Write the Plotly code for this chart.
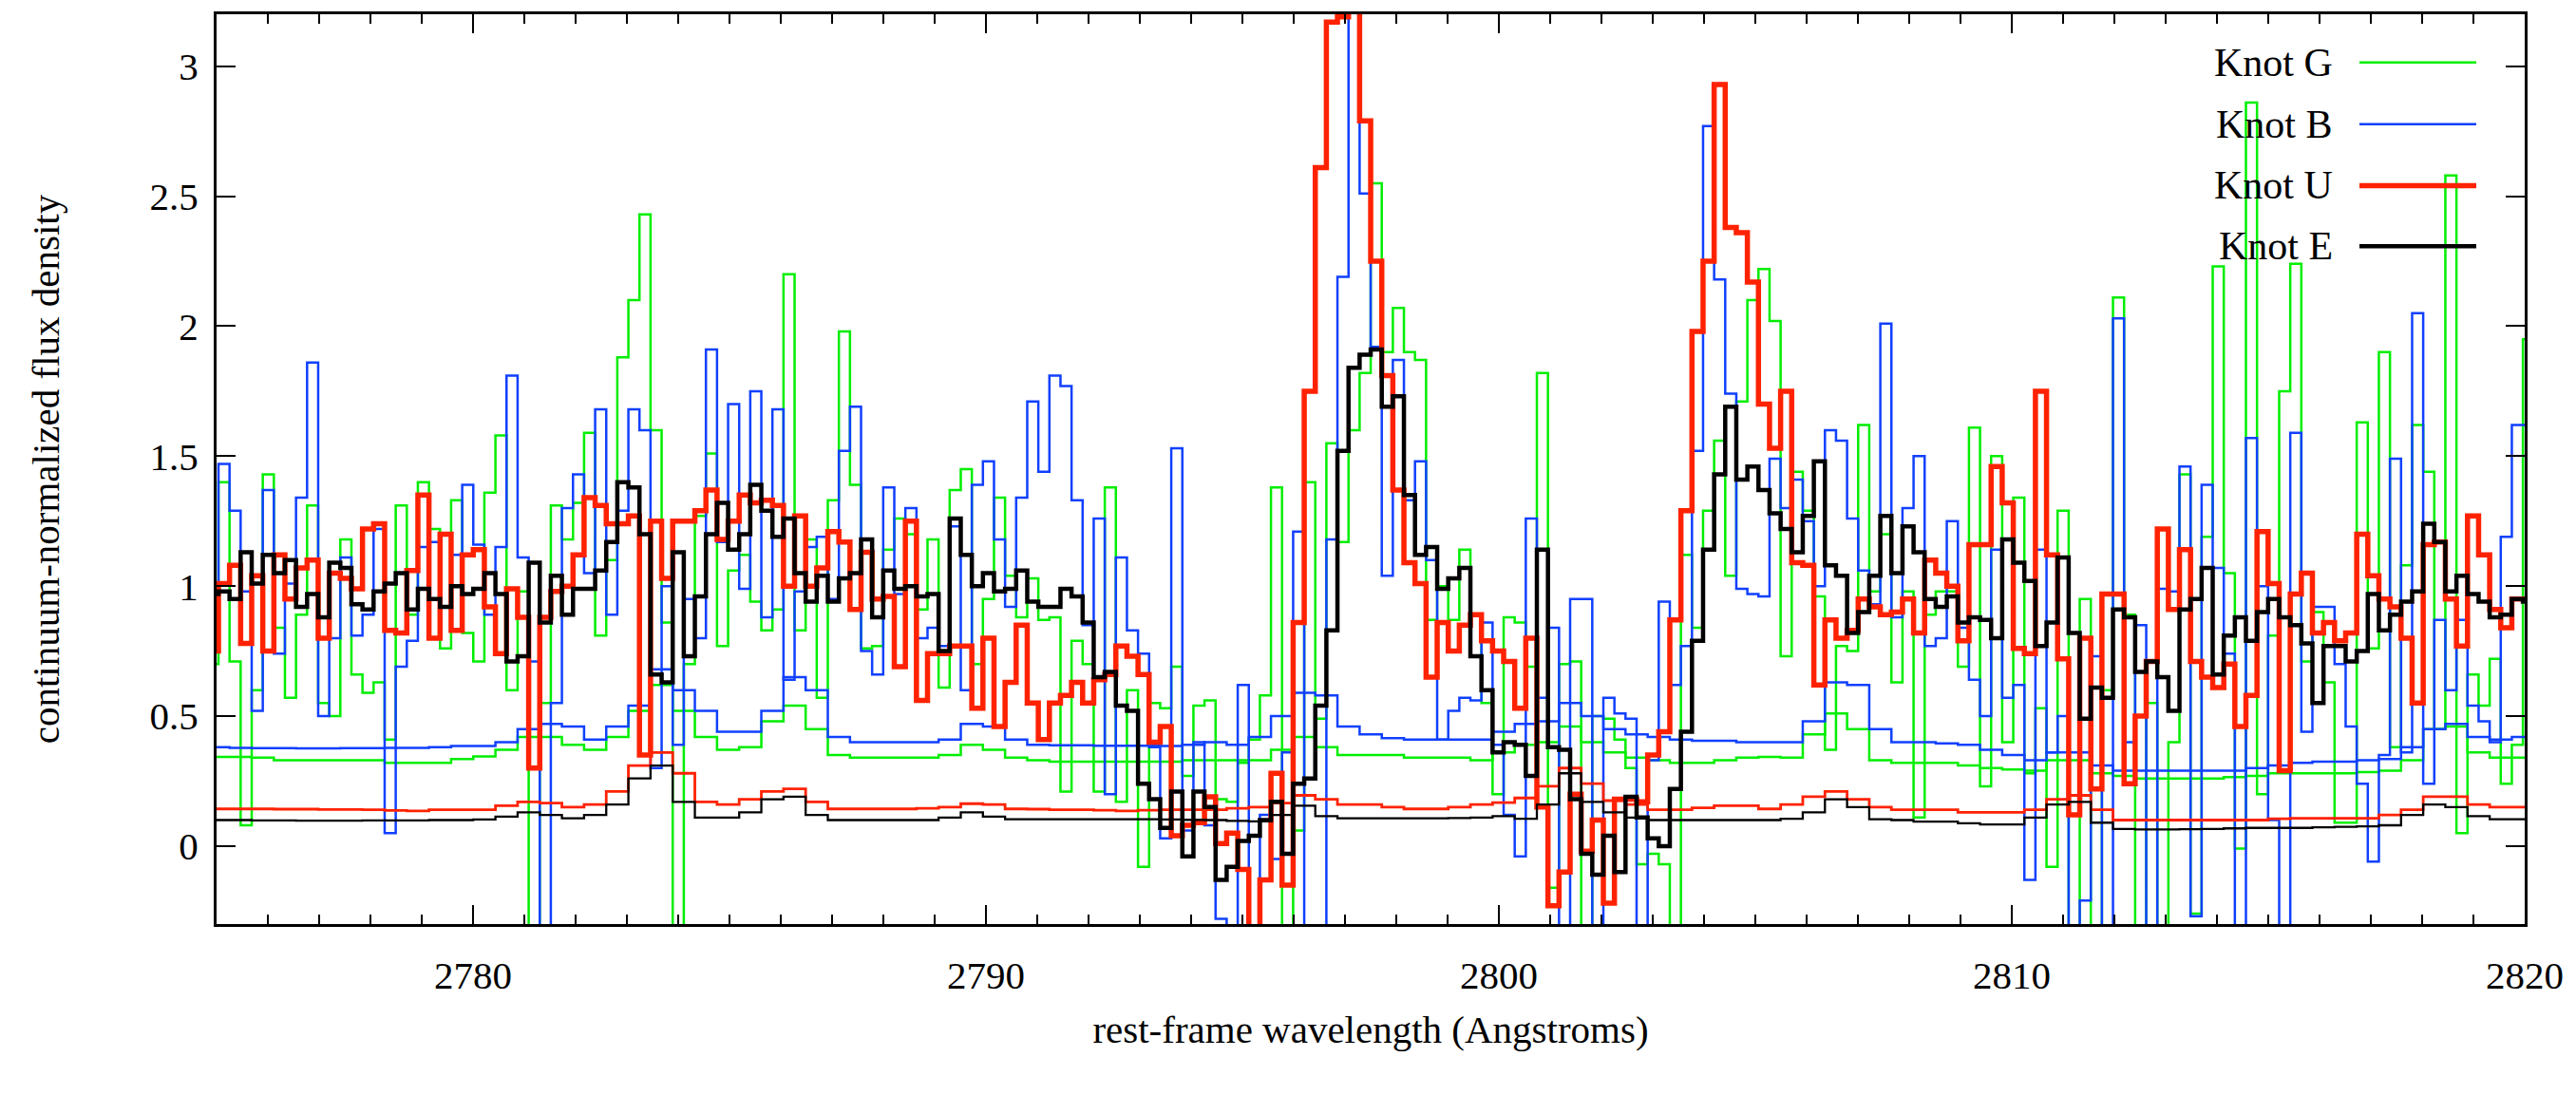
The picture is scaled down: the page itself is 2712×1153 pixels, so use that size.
import numpy as np
import plotly.graph_objects as go

# Rest-frame wavelength binning of the extracted spectra (Angstroms)
BIN_START = 2774.821
BIN_WIDTH = 0.216
ERR_WIDTH = 0.432

knot_names = ["Knot G", "Knot B", "Knot U", "Knot E"]

# Continuum-normalized flux density per spectral bin
flux_G = [
    0.70, 1.40, 0.71, 0.08, 0.60, 1.43, 0.84, 0.57, 0.89, 1.31,
    0.55, 0.50, 1.18, 0.66, 0.59, 0.63, 0.41, 1.31, 0.89, 1.40,
    1.22, 0.76, 1.33, 0.82, 0.71, 1.36, 1.58, 0.60, 0.98, -0.60,
    0.55, 1.31, 1.18, 1.32, 1.59, 0.81, 1.10, 1.88, 2.10, 2.43,
    1.60, 0.86, -0.60, 0.70, 1.27, 1.51, 0.77, 1.06, 1.12, 0.94,
    0.83, 0.91, 2.20, 0.83, 1.18, 0.57, 1.33, 1.98, 1.39, 0.76,
    0.77, 1.14, 1.26, 1.20, 0.91, 1.18, 0.61, 1.37, 1.45, 0.70,
    0.95, 1.34, 1.04, 0.88, 1.03, 0.87, 0.88, 0.21, 0.79, 0.70,
    0.21, 1.38, 0.17, 0.60, -0.08, 0.55, 0.53, 0.69, 0.27, 0.54,
    0.56, 0.18, 0.17, 0.32, 0.41, 0.58, 1.38, -0.50, 0.06, 1.40,
    0.49, 1.55, 1.17, 1.60, 1.82, 2.55, 1.90, 2.07, 1.90, 1.87,
    0.87, 1.00, 0.87, 1.14, 0.89, 0.55, 0.20, 0.88, 0.86, 0.69,
    1.82, -0.16, 0.70, 0.71, -0.60, 0.50, 0.49, 0.41, 0.30, -0.07,
    -0.03, -0.07, -0.60, 1.12, 0.84, 1.29, 1.56, 1.04, 1.71, 2.10,
    2.22, 2.02, 0.73, 1.44, 1.29, 0.96, 0.37, 0.77, 0.75, 1.62,
    0.98, 1.20, 0.63, 0.98, 0.11, 0.89, 0.98, 0.98, 0.69, 1.61,
    0.23, 1.50, 0.40, 1.34, 0.28, 0.53, -0.08, 1.29, -0.60, 0.95,
    -0.60, 0.60, 2.11, 0.89, -0.60, 0.55, -0.60, 0.40, 1.43, -0.26,
    1.19, 2.23, 1.05, -0.01, 2.86, 0.20, 0.81, 1.75, 2.24, 0.71,
    0.90, 0.63, 0.09, 0.09, 1.63, 0.76, 1.90, 0.38, 1.08, 1.62,
    1.44, 0.45, 2.58, 0.05, 0.66, 0.54, 0.72, 0.24, 0.39, 1.95,
]

flux_B = [
    0.81, 1.47, 1.29, 0.98, 0.52, 1.37, 0.74, 1.01, 1.34, 1.86,
    0.50, 0.80, 1.11, 0.81, 0.89, 1.22, 0.05, 0.69, 0.79, 1.15,
    1.17, 0.92, 1.12, 1.39, 1.16, 0.89, 1.15, 1.81, 1.11, 0.71,
    -0.60, 0.55, 1.30, 1.43, 1.05, 1.68, 0.89, 1.29, 1.68, 1.60,
    0.30, 1.00, 0.39, 0.95, 0.80, 1.91, 1.17, 1.70, 0.99, 1.75,
    0.88, 1.68, 0.64, 0.98, 1.15, 1.19, 0.95, 1.52, 1.69, 0.75,
    0.66, 1.38, 0.97, 1.30, 0.80, 0.84, 0.77, 1.23, 0.60, 1.39,
    1.48, 1.18, 0.92, 1.34, 1.71, 1.44, 1.81, 1.77, 1.33, 0.85,
    1.26, 0.20, 1.11, 0.83, 0.74, 0.38, 0.03, 1.53, 0.06, 0.40,
    0.08, -0.28, -0.60, 0.62, -0.60, 0.12, -0.05, 0.36, 1.21, -0.60,
    -0.60, 1.18, 2.19, 3.40, 2.51, 1.92, 1.04, 1.87, 1.33, 1.48,
    1.10, 0.41, 0.52, 0.57, 0.56, 0.86, 0.39, 0.12, -0.04, 1.26,
    0.57, 0.84, -0.60, 0.95, 0.95, -0.60, 0.57, 0.51, 0.49, -0.60,
    0.33, 0.94, 0.62, 0.77, 1.52, 2.77, 2.18, 1.74, 0.99, 0.97,
    0.96, 1.49, 1.30, 1.41, 1.25, 1.00, 1.60, 1.56, 1.26, 1.06,
    0.93, 2.01, 0.88, 1.30, 1.50, 0.77, 0.80, 1.25, 0.84, 0.64,
    0.50, 1.14, 0.57, 0.62, -0.13, 1.14, 0.36, 0.50, -0.60, -0.21,
    0.73, -0.60, 2.03, 0.40, 0.85, -0.60, 0.99, 0.98, 1.46, -0.27,
    1.39, 1.07, 0.74, -0.60, 1.57, 1.00, 0.10, -0.60, 1.59, 0.44,
    0.92, 0.92, 0.70, 0.46, 0.24, -0.06, 0.35, 1.49, 0.36, 2.05,
    0.24, 0.87, 0.60, 0.87, 0.54, 0.48, 0.40, 1.19, 1.62, 1.62,
]

flux_U = [
    0.75, 1.01, 1.08, 0.78, 1.04, 0.75, 1.12, 0.95, 1.07, 1.10,
    0.80, 1.05, 1.03, 0.99, 1.22, 1.24, 0.83, 0.82, 1.06, 1.35,
    0.80, 1.20, 0.83, 1.12, 1.14, 0.92, 0.74, 0.99, 0.88, 0.30,
    0.88, 0.98, 1.00, 1.12, 1.34, 1.31, 1.24, 1.24, 1.27, 0.35,
    1.25, 1.03, 1.25, 1.25, 1.29, 1.37, 1.18, 1.25, 1.35, 1.32,
    1.33, 1.31, 1.00, 1.27, 1.00, 1.07, 1.21, 1.17, 0.91, 1.13,
    0.95, 0.96, 0.69, 1.25, 0.56, 0.74, 0.74, 0.77, 0.77, 0.53,
    0.80, 0.46, 0.63, 0.85, 0.55, 0.41, 0.55, 0.58, 0.63, 0.55,
    0.64, 0.66, 0.77, 0.73, 0.66, 0.40, 0.46, 0.04, 0.08, 0.09,
    0.19, 0.01, 0.05, -0.09, -0.35, -0.13, 0.28, -0.15, 0.86, 1.75,
    2.61, 3.17, 3.19, 3.50, 2.79, 2.25, 1.81, 1.37, 1.09, 1.01,
    0.65, 0.86, 0.75, 0.85, 0.89, 0.79, 0.75, 0.71, 0.53, 0.80,
    0.15, -0.23, -0.10, 0.20, -0.02, 0.10, -0.22, 0.18, 0.18, 0.17,
    0.35, 0.44, 0.87, 1.29, 1.98, 2.25, 2.93, 2.38, 2.36, 2.17,
    1.70, 1.53, 1.75, 1.09, 1.08, 0.62, 0.87, 0.80, 0.83, 0.95,
    0.92, 0.89, 0.90, 0.95, 0.82, 1.10, 1.05, 1.00, 0.79, 1.16,
    1.16, 1.46, 1.32, 0.76, 0.74, 1.75, 1.12, 0.72, 0.12, 0.80,
    0.22, 0.97, 0.97, 0.24, 0.50, 0.71, 1.22, 0.91, 1.14, 0.71,
    0.65, 0.61, 0.70, 0.46, 0.58, 1.21, 1.01, 0.29, 0.97, 1.05,
    0.82, 0.86, 0.79, 0.82, 1.20, 1.04, 0.95, 0.92, 0.80, 0.55,
    1.16, 1.17, 0.95, 0.77, 1.27, 1.12, 0.91, 0.84, 0.95, 0.95,
]

flux_E = [
    0.97, 0.98, 0.95, 1.13, 1.01, 1.12, 1.05, 1.10, 0.92, 0.97,
    0.88, 1.09, 1.07, 0.93, 0.91, 0.98, 1.01, 1.05, 0.91, 0.99,
    0.95, 0.92, 1.00, 0.97, 0.99, 1.05, 0.97, 0.71, 0.73, 1.09,
    0.86, 1.04, 0.89, 0.99, 0.99, 1.06, 1.17, 1.40, 1.38, 1.20,
    0.66, 0.63, 1.13, 0.73, 0.96, 1.20, 1.32, 1.14, 1.20, 1.39,
    1.29, 1.19, 1.26, 1.05, 0.94, 1.04, 0.94, 1.03, 1.05, 1.18,
    0.88, 1.06, 0.99, 1.00, 0.96, 0.97, 0.75, 1.26, 1.12, 1.00,
    1.05, 0.98, 0.99, 1.06, 0.94, 0.92, 0.92, 0.99, 0.96, 0.86,
    0.65, 0.67, 0.54, 0.52, 0.24, 0.18, 0.07, 0.21, -0.04, 0.21,
    0.15, -0.13, -0.08, 0.02, 0.04, 0.10, 0.17, -0.03, 0.24, 0.26,
    0.54, 0.83, 1.52, 1.84, 1.89, 1.91, 1.69, 1.73, 1.35, 1.12,
    1.15, 0.99, 1.03, 1.07, 0.73, 0.60, 0.36, 0.40, 0.39, 0.27,
    1.14, 0.38, 0.37, 0.18, -0.03, -0.11, 0.04, -0.10, 0.19, 0.11,
    0.03, 0.00, 0.22, 0.44, 0.79, 1.14, 1.43, 1.69, 1.41, 1.46,
    1.37, 1.28, 1.22, 1.13, 1.27, 1.48, 1.08, 1.04, 0.82, 0.90,
    1.04, 1.27, 1.05, 1.23, 1.13, 0.95, 0.92, 0.96, 0.86, 0.88,
    0.87, 0.80, 1.18, 1.09, 1.02, 0.77, 0.86, 1.11, 0.82, 0.49,
    0.61, 0.57, 0.91, 0.88, 0.67, 0.71, 0.65, 0.52, 0.91, 0.95,
    1.07, 0.66, 0.81, 0.88, 0.79, 0.90, 0.95, 0.88, 0.85, 0.78,
    0.55, 0.77, 0.77, 0.71, 0.75, 0.97, 0.83, 0.89, 0.94, 0.98,
    1.24, 1.17, 0.98, 1.04, 0.97, 0.94, 0.88, 0.89, 0.95, 0.94,
]

# 1-sigma error spectra (coarser binning)
err_G = [
    0.343, 0.343, 0.340, 0.330, 0.330, 0.330, 0.330, 0.330, 0.320, 0.320,
    0.320, 0.335, 0.345, 0.370, 0.420, 0.420, 0.390, 0.370, 0.420, 0.520,
    0.620, 0.520, 0.420, 0.370, 0.380, 0.480, 0.540, 0.450, 0.350, 0.340,
    0.340, 0.340, 0.340, 0.350, 0.390, 0.370, 0.340, 0.330, 0.325, 0.325,
    0.325, 0.325, 0.325, 0.325, 0.330, 0.330, 0.330, 0.330, 0.370, 0.420,
    0.380, 0.350, 0.350, 0.350, 0.340, 0.340, 0.340, 0.330, 0.360, 0.390,
    0.400, 0.460, 0.400, 0.360, 0.340, 0.330, 0.320, 0.320, 0.330, 0.340,
    0.343, 0.340, 0.430, 0.510, 0.450, 0.330, 0.320, 0.320, 0.320, 0.310,
    0.300, 0.295, 0.290, 0.330, 0.330, 0.280, 0.270, 0.260, 0.260, 0.260,
    0.260, 0.265, 0.270, 0.280, 0.280, 0.280, 0.280, 0.285, 0.290, 0.330,
    0.450, 0.460, 0.360, 0.340, 0.340,
]

err_B = [
    0.380, 0.378, 0.377, 0.377, 0.376, 0.376, 0.377, 0.377, 0.378, 0.378,
    0.380, 0.385, 0.385, 0.400, 0.450, 0.470, 0.460, 0.410, 0.460, 0.540,
    0.680, 0.600, 0.520, 0.440, 0.440, 0.520, 0.650, 0.600, 0.420, 0.400,
    0.400, 0.400, 0.400, 0.410, 0.470, 0.460, 0.410, 0.390, 0.388, 0.388,
    0.386, 0.386, 0.386, 0.385, 0.390, 0.400, 0.390, 0.420, 0.500, 0.590,
    0.580, 0.460, 0.430, 0.415, 0.410, 0.410, 0.410, 0.410, 0.440, 0.470,
    0.480, 0.550, 0.500, 0.450, 0.430, 0.420, 0.410, 0.405, 0.405, 0.400,
    0.400, 0.400, 0.480, 0.630, 0.620, 0.450, 0.400, 0.400, 0.395, 0.390,
    0.370, 0.350, 0.330, 0.360, 0.360, 0.310, 0.290, 0.290, 0.290, 0.290,
    0.290, 0.290, 0.300, 0.310, 0.320, 0.325, 0.325, 0.330, 0.335, 0.380,
    0.450, 0.470, 0.420, 0.410, 0.420,
]

err_U = [
    0.143, 0.143, 0.143, 0.142, 0.142, 0.141, 0.141, 0.140, 0.137, 0.135,
    0.140, 0.140, 0.140, 0.155, 0.170, 0.165, 0.150, 0.160, 0.210, 0.310,
    0.360, 0.280, 0.170, 0.160, 0.180, 0.210, 0.220, 0.170, 0.143, 0.143,
    0.143, 0.143, 0.145, 0.150, 0.163, 0.160, 0.143, 0.142, 0.140, 0.140,
    0.138, 0.135, 0.138, 0.140, 0.140, 0.140, 0.145, 0.150, 0.165, 0.195,
    0.180, 0.160, 0.160, 0.150, 0.143, 0.143, 0.150, 0.160, 0.167, 0.185,
    0.230, 0.300, 0.240, 0.175, 0.160, 0.140, 0.140, 0.147, 0.155, 0.155,
    0.143, 0.160, 0.190, 0.210, 0.180, 0.150, 0.140, 0.140, 0.140, 0.130,
    0.130, 0.130, 0.140, 0.180, 0.195, 0.140, 0.100, 0.100, 0.100, 0.100,
    0.100, 0.100, 0.100, 0.105, 0.107, 0.107, 0.107, 0.107, 0.120, 0.140,
    0.190, 0.190, 0.160, 0.150, 0.150,
]

err_E = [
    0.100, 0.100, 0.099, 0.099, 0.098, 0.098, 0.098, 0.099, 0.099, 0.099,
    0.100, 0.100, 0.102, 0.113, 0.130, 0.120, 0.107, 0.120, 0.160, 0.260,
    0.310, 0.170, 0.110, 0.110, 0.130, 0.180, 0.190, 0.120, 0.100, 0.100,
    0.100, 0.100, 0.100, 0.110, 0.130, 0.113, 0.103, 0.103, 0.103, 0.103,
    0.103, 0.103, 0.103, 0.102, 0.101, 0.100, 0.097, 0.095, 0.120, 0.155,
    0.115, 0.107, 0.107, 0.107, 0.107, 0.107, 0.108, 0.110, 0.115, 0.105,
    0.160, 0.280, 0.170, 0.130, 0.110, 0.100, 0.100, 0.100, 0.100, 0.100,
    0.100, 0.105, 0.130, 0.180, 0.150, 0.103, 0.100, 0.094, 0.094, 0.088,
    0.083, 0.083, 0.110, 0.160, 0.170, 0.090, 0.066, 0.064, 0.064, 0.065,
    0.066, 0.068, 0.070, 0.070, 0.070, 0.072, 0.074, 0.076, 0.080, 0.120,
    0.160, 0.150, 0.115, 0.103, 0.103,
]

knot_colors = ["#00ee00", "#1040ff", "#ff2200", "#000000"]
knot_widths = [2.5, 2.5, 5.5, 4.5]
err_widths = [2.5, 2.5, 2.8, 2.3]

W, H = 2712, 1153
M_L, M_R, M_T, M_B = 228, 54, 12, 180
PLOT_W = W - M_L - M_R
PLOT_H = H - M_T - M_B
FONT = "Liberation Serif"


def steps(values, start, width):
    """Bin edges plus a closing point so the last bin is drawn in full."""
    n = len(values)
    x = start + width * np.arange(n + 1)
    y = list(values) + [values[-1]]
    return x, y


fig = go.Figure()

series = [flux_G, flux_B, flux_U, flux_E]
errors = [err_G, err_B, err_U, err_E]

for name, flux, err, col, lw, ew in zip(knot_names, series, errors,
                                       knot_colors, knot_widths, err_widths):
    ex, ey = steps(err, BIN_START, ERR_WIDTH)
    fig.add_trace(go.Scatter(x=ex, y=ey, mode="lines", line_shape="hv",
                             line=dict(color=col, width=ew),
                             name=name + " error", showlegend=False,
                             hoverinfo="skip"))
    fx, fy = steps(flux, BIN_START, BIN_WIDTH)
    fig.add_trace(go.Scatter(x=fx, y=fy, mode="lines", line_shape="hv",
                             line=dict(color=col, width=lw),
                             name=name, showlegend=False))


def px_to_paper_x(px):
    return (px - M_L) / PLOT_W


def px_to_paper_y(py):
    return (H - M_B - py) / PLOT_H


# gnuplot-style key: right-aligned label followed by a line sample
key_rows = [63, 128, 193, 257]
for name, col, lw, row in zip(knot_names, knot_colors, knot_widths, key_rows):
    yp = px_to_paper_y(row)
    fig.add_annotation(x=px_to_paper_x(2458), y=yp, xref="paper", yref="paper",
                       text=name, showarrow=False, xanchor="right",
                       yanchor="middle",
                       font=dict(family=FONT, size=42, color="black"))
    fig.add_shape(type="line", xref="paper", yref="paper",
                  x0=px_to_paper_x(2484), x1=px_to_paper_x(2607),
                  y0=yp, y1=yp, line=dict(color=col, width=lw))

axis_common = dict(
    showline=True, linecolor="black", linewidth=3, mirror="allticks",
    ticks="inside", tickcolor="black", tickwidth=2, ticklen=20,
    showgrid=False, zeroline=False,
    tickfont=dict(family=FONT, size=41, color="black"),
)

fig.update_xaxes(
    range=[2775, 2820], tick0=2780, dtick=10,
    minor=dict(dtick=1, ticks="inside", ticklen=10, tickcolor="black",
               tickwidth=2, showgrid=False),
    title=dict(text="rest-frame wavelength (Angstroms)",
               font=dict(family=FONT, size=41, color="black"), standoff=21),
    ticklabelstandoff=16,
    **axis_common,
)
fig.update_yaxes(
    range=[-0.3, 3.2], tick0=0, dtick=0.5,
    title=dict(text="continuum-normalized flux density",
               font=dict(family=FONT, size=41, color="black"), standoff=83),
    ticklabelstandoff=8,
    **axis_common,
)

fig.update_layout(
    width=W, height=H,
    margin=dict(l=M_L, r=M_R, t=M_T, b=M_B),
    plot_bgcolor="white", paper_bgcolor="white",
    showlegend=False,
)

fig.write_html("out.html")
